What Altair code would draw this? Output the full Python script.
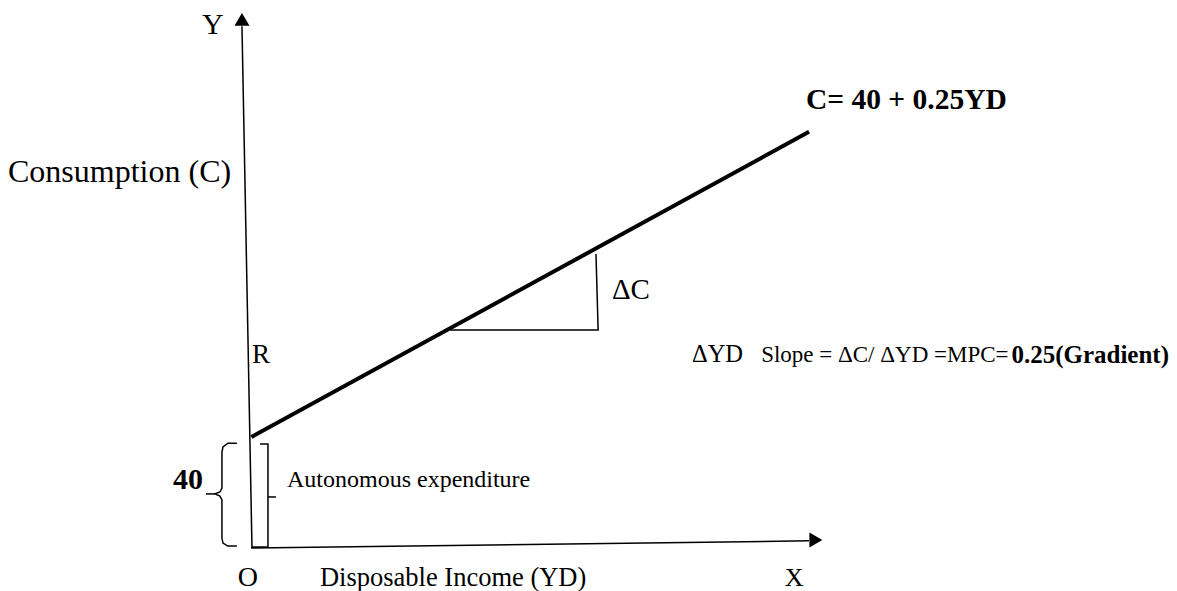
import altair as alt
import pandas as pd

FONT = "Liberation Serif"

# ---- consumption function C = 40 + 0.25*YD (diagram units: x = YD, y = C)
yd_vals = [0, 440]
c_vals = [40, 150]

# ---- axes (thin lines)
axis_x = [0.5, -7.4, -0.3, 440.0]
axis_y = [0.0, 188.0, 0.0, 2.6]

# ---- slope triangle (delta YD horizontal, delta C vertical)
tri_x = [157.0, 273.6, 271.9]
tri_y = [78.6, 78.6, 106.0]

# ---- left curly brace (40) and its tick
brace_x = [-11.4, -18.5, -22.4, -23.2, -23.2, -24.8, -28.7, -24.8, -23.2, -23.2, -22.4, -18.5, -11.4]
brace_y = [37.8, 37.8, 36.4, 34.6, 21.6, 20.2, 19.5, 18.7, 17.3, 3.6, 1.8, 0.7, 0.7]
tick40_x = [-35.8, -28.7]
tick40_y = [19.5, 19.5]

# ---- right bracket (autonomous expenditure) and its tick
bracket_x = [6.8, 13.1, 13.1, 0.5]
bracket_y = [37.5, 37.5, 0.4, 0.4]
tickA_x = [13.1, 19.4]
tickA_y = [18.4, 18.4]

# ---- arrow heads
arrow_x = [-7.4, 445.4]
arrow_y = [190.5, 2.9]
arrow_shape = ["triangle-up", "triangle-right"]

# ---- texts
txt_label = ["Y", "Consumption (C)", "C= 40 + 0.25YD", "\u0394C", "R", "\u0394YD",
             "Slope = \u0394C/ \u0394YD =MPC=", "0.25(Gradient)", "40",
             "Autonomous expenditure", "O", "Disposable Income (YD)", "X"]
txt_x = [-30.3, -192.0, 437.6, 284.5, 0.5, 347.6, 402.2, 724.0, -38.2, 28.1, -2.7, 54.1, 420.9]
txt_y = [188.5, 135.5, 161.4, 93.0, 69.5, 69.5, 69.5, 69.5, 24.5, 24.5, -10.8, -10.8, -10.8]
txt_align = ["center", "left", "left", "left", "left", "left", "left", "right", "right",
             "left", "center", "left", "left"]
txt_weight = ["normal", "normal", "bold", "normal", "normal", "normal", "normal", "bold", "bold",
              "normal", "normal", "normal", "normal"]
txt_size = [30, 32, 29.5, 29, 27, 24.5, 23, 25, 30, 24, 28, 26.5, 26]

X_DOMAIN = [-192, 724]
Y_DOMAIN = [-12.6, 194.6]

xs = alt.Scale(domain=X_DOMAIN, nice=False, zero=False)
ys = alt.Scale(domain=Y_DOMAIN, nice=False, zero=False)


def enc_xy():
    return dict(x=alt.X("x:Q", scale=xs, axis=None), y=alt.Y("y:Q", scale=ys, axis=None))


rows = []
def add(seg, xv, yv):
    for i, (a, b) in enumerate(zip(xv, yv)):
        rows.append({"seg": seg, "o": i, "x": a, "y": b})

add("yaxis", axis_x[0:2], axis_y[0:2])
add("xaxis", axis_x[2:4], axis_y[2:4])
add("tri", tri_x, tri_y)
add("brace", brace_x, brace_y)
add("tick40", tick40_x, tick40_y)
add("bracket", bracket_x, bracket_y)
add("tickA", tickA_x, tickA_y)
thin_df = pd.DataFrame(rows)

thin = alt.Chart(thin_df).mark_line(color="black", strokeWidth=1.5).encode(
    **enc_xy(), detail="seg:N", order="o:Q"
)

cons_df = pd.DataFrame({"x": yd_vals, "y": c_vals})
cons = alt.Chart(cons_df).mark_line(color="black", strokeWidth=4).encode(**enc_xy())

layers = [thin, cons]
for sx, sy, sh in zip(arrow_x, arrow_y, arrow_shape):
    layers.append(
        alt.Chart(pd.DataFrame({"x": [sx], "y": [sy]})).mark_point(
            shape=sh, filled=True, color="black", opacity=1, size=225, strokeWidth=0
        ).encode(**enc_xy())
    )

for lab, tx, ty, al, wt, sz in zip(txt_label, txt_x, txt_y, txt_align, txt_weight, txt_size):
    layers.append(
        alt.Chart(pd.DataFrame({"x": [tx], "y": [ty], "t": [lab]})).mark_text(
            font=FONT, fontSize=sz, fontWeight=wt, align=al, baseline="middle", color="black"
        ).encode(**enc_xy(), text="t:N")
    )

chart = alt.layer(*layers).properties(
    width=1161, height=575,
    padding={"left": 0, "top": 0, "right": 0, "bottom": 10},
    autosize=alt.AutoSizeParams(type="none"),
    background="white",
).configure_view(stroke=None)

chart.save("out.html", embed_options={"renderer": "svg", "actions": False})
